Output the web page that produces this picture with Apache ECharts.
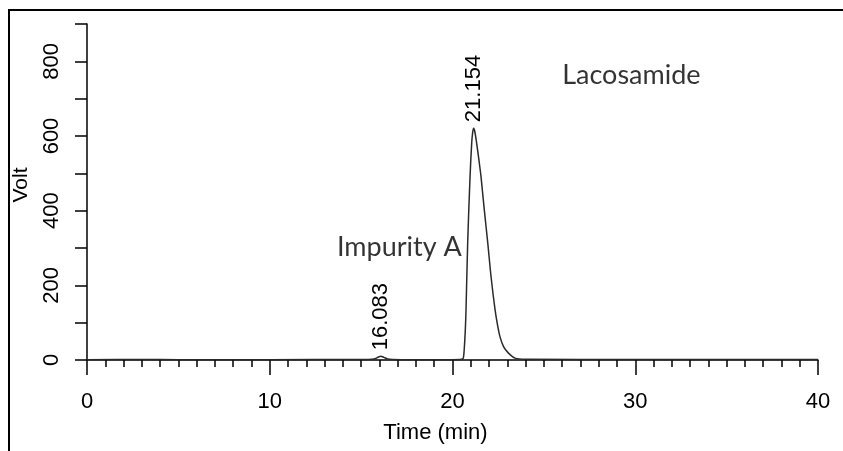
<!DOCTYPE html>
<html>
<head>
<meta charset="utf-8">
<script src="https://cdn.jsdelivr.net/npm/echarts@6/dist/echarts.min.js"></script>
<style>html,body{margin:0;padding:0;background:#fff;}#c{width:843px;height:451px;}</style>
</head>
<body>
<div id="c"></div>
<script>
// Chromatogram trace (time in min, signal in Volt)
var times = [0, 3, 5, 10, 15, 15.6, 15.8, 15.95, 16.083, 16.25, 16.45, 16.7, 18, 20, 20.5, 20.59, 20.65, 20.70, 20.74, 20.83, 20.96, 21.05, 21.10, 21.154, 21.22, 21.32, 21.44, 21.56, 21.74, 21.93, 22.11, 22.33, 22.47, 22.6, 22.8, 23.05, 23.42, 24, 30, 40];
var volts = [1, 1.5, 1, 1, 1.5, 2, 4, 8, 10, 7, 3, 1.5, 1, 1, 2, 5, 35, 80, 134, 313, 491, 581, 608, 621, 612, 581, 538, 491, 402, 313, 223, 134, 92, 62, 35, 19, 5, 2, 1.5, 1.5];
var xTicks = [0, 10, 20, 30, 40];
var yTickLabels = [0, 200, 400, 600, 800];
var peakLabels = [{t: 16.083, v: 10, text: '16.083'}, {t: 21.154, v: 621, text: '21.154'}];
var compoundNotes = [{t: 13.68, v: 303, text: 'Impurity A'}, {t: 26.0, v: 763, text: 'Lacosamide'}];

var font = 'Liberation Sans, Arial, sans-serif';
var chart = echarts.init(document.getElementById('c'));
var data = times.map(function (t, i) { return [t, volts[i]]; });

chart.setOption({
  animation: false,
  grid: {left: 87, right: 25, top: 24, bottom: 91},
  graphic: [{
    type: 'rect', shape: {x: 9, y: 10, width: 900, height: 600},
    style: {fill: 'none', stroke: '#000', lineWidth: 2}, silent: true
  }],
  xAxis: {
    type: 'value', min: xTicks[0], max: xTicks[xTicks.length - 1], interval: 10,
    offset: 12,
    name: 'Time (min)', nameLocation: 'middle', nameGap: 50,
    nameTextStyle: {fontFamily: font, fontSize: 22, color: '#000', padding: [0, 34, 0, 0]},
    axisLine: {show: true, lineStyle: {color: '#000', width: 1.5}},
    axisTick: {show: true, length: 15, lineStyle: {color: '#000', width: 1.5}},
    minorTick: {show: true, splitNumber: 10, length: 7, lineStyle: {color: '#000', width: 1.5}},
    axisLabel: {fontFamily: font, fontSize: 22, color: '#000', margin: 19},
    splitLine: {show: false}
  },
  yAxis: {
    type: 'value', min: 0, max: 900, interval: 100,
    name: 'Volt', nameLocation: 'middle', nameGap: 55,
    nameTextStyle: {fontFamily: font, fontSize: 21, color: '#000', padding: [0, 0, 0, 14]},
    axisLine: {show: true, lineStyle: {color: '#000', width: 1.5}},
    axisTick: {show: true, length: 12, lineStyle: {color: '#000', width: 1.5}},
    axisLabel: {
      fontFamily: font, fontSize: 22, color: '#000', rotate: 90, margin: 24,
      formatter: function (v) { return yTickLabels.indexOf(v) >= 0 ? String(v) : ''; }
    },
    splitLine: {show: false}
  },
  series: [{
    type: 'line', data: data, symbol: 'none', smooth: 0.3,
    lineStyle: {color: '#2a2a2a', width: 1.5},
    markPoint: {
      symbol: 'circle', symbolSize: 0,
      label: {show: true, position: 'top', distance: 6, rotate: 90, align: 'left', verticalAlign: 'middle',
              fontFamily: font, fontSize: 22, color: '#000', formatter: function (p) { return p.name; }},
      data: peakLabels.map(function (p) { return {name: p.text, coord: [p.t, p.v]}; })
    }
  }, {
    type: 'scatter', data: compoundNotes.map(function (n) { return {value: [n.t, n.v], name: n.text}; }),
    symbolSize: 0, silent: true,
    label: {show: true, position: 'right', distance: 0, fontFamily: 'Lato, Open Sans, sans-serif', fontSize: 27, color: '#000',
            formatter: function (p) { return p.name; }}
  }]
});
</script>
</body>
</html>
